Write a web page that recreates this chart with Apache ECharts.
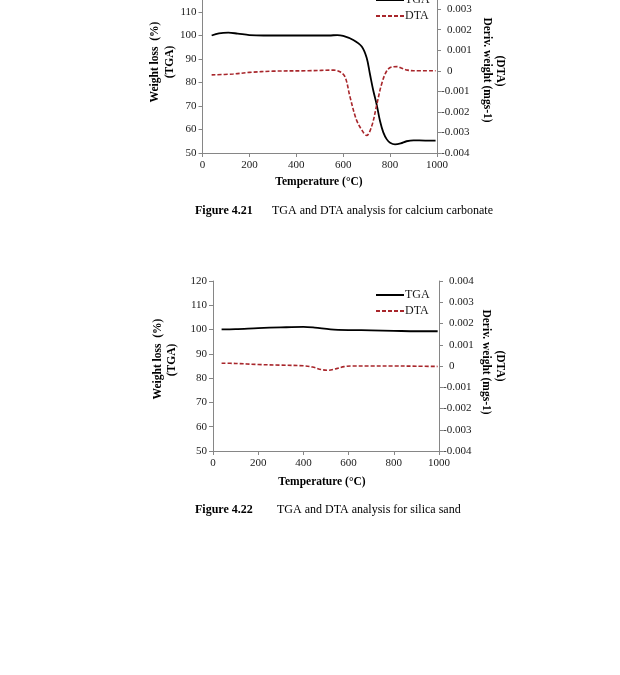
<!DOCTYPE html>
<html>
<head>
<meta charset="utf-8">
<script src="https://cdn.jsdelivr.net/npm/echarts@6/dist/echarts.min.js"></script>
<style>
html,body{margin:0;padding:0;background:#fff;overflow:hidden;}
#wrap{position:relative;width:620px;height:675px;overflow:hidden;}
#c{position:absolute;left:0;top:-17px;width:620px;height:692px;}
</style>
</head>
<body>
<div id="wrap"><div id="c"></div></div>
<script>
// ---- data ----
const xTicks = [0, 200, 400, 600, 800, 1000];
const leftTicks = [50, 60, 70, 80, 90, 100, 110, 120];
const rightTicks = [-0.004, -0.003, -0.002, -0.001, 0, 0.001, 0.002, 0.003, 0.004];

// Figure 4.21 calcium carbonate: [temperature, value]
const tgaCaCO3 = [[39,100],[70,100.9],[110,101.2],[150,100.8],[200,100.2],[260,100],[400,100],[540,100],[575,100.2],[600,99.8],[643,98.1],[679,95.3],[700,90.5],[714,83.6],[728,76.7],[743,70.5],[757,63.6],[771,58.8],[786,55.8],[800,54.4],[821,53.7],[845,54.1],[870,55],[900,55.4],[950,55.3],[994,55.3]];
const dtaCaCO3 = [[39,-0.0002],[130,-0.00016],[200,-0.00008],[300,-0.00002],[450,0],[560,0.00003],[586,-0.00005],[608,-0.0003],[629,-0.00127],[657,-0.0024],[686,-0.003],[700,-0.00315],[722,-0.00268],[743,-0.00166],[764,-0.00064],[786,0],[807,0.00018],[830,0.0002],[850,0.00012],[875,0.00003],[900,0],[994,0]];

// Figure 4.22 silica sand
const tgaSand = [[38,100.1],[100,100.2],[200,100.6],[300,100.9],[400,101.1],[450,100.8],[520,100.1],[600,99.8],[700,99.7],[800,99.5],[900,99.3],[994,99.3]];
const dtaSand = [[38,0.00013],[100,0.00012],[200,0.00007],[300,0.00004],[400,0.00001],[440,-0.00005],[480,-0.00017],[510,-0.0002],[540,-0.00014],[580,-0.00003],[620,0],[700,0],[800,0],[900,-0.00001],[994,-0.00002]];

const seriesNames = ['TGA', 'DTA'];
const xTitle = 'Temperature (°C)';
const leftTitle = ['Weight loss  (%)', '(TGA)'];
const rightTitle = ['Deriv. weight (mgs-1)', '(DTA)'];
const captions = [['Figure 4.21', 'TGA and DTA analysis for calcium carbonate'], ['Figure 4.22', 'TGA and DTA analysis for silica sand']];

// ---- styling ----
const OFF = 17; // canvas is shifted up by this many pixels (top of figure 4.21 is cut off)
const FONT = '"Liberation Serif", "Times New Roman", serif';
const AX = '#868686';
const TXT = '#1a1a1a';
const DTA_COLOR = '#a8262b';

function xAxis(gi) {
  return {
    gridIndex: gi, type: 'value', min: xTicks[0], max: xTicks[xTicks.length-1], interval: xTicks[1]-xTicks[0],
    axisLine: {show: true, onZero: false, lineStyle: {color: AX, width: 1}},
    axisTick: {show: true, length: 4, lineStyle: {color: AX}},
    splitLine: {show: false},
    axisLabel: {margin: 7, fontFamily: FONT, fontSize: 11, color: TXT, formatter: function (v) { return String(v); }}
  };
}
function leftAxis(gi) {
  return {
    gridIndex: gi, type: 'value', position: 'left', min: leftTicks[0], max: leftTicks[leftTicks.length-1], interval: leftTicks[1]-leftTicks[0],
    axisLine: {show: true, onZero: false, lineStyle: {color: AX, width: 1}},
    axisTick: {show: true, length: 4, lineStyle: {color: AX}},
    splitLine: {show: false},
    axisLabel: {margin: 6, fontFamily: FONT, fontSize: 11, color: TXT, formatter: function (v) { return String(v); }}
  };
}
function rightAxis(gi) {
  return {
    gridIndex: gi, type: 'value', position: 'right', min: rightTicks[0], max: rightTicks[rightTicks.length-1], interval: 0.001,
    axisLine: {show: true, onZero: false, lineStyle: {color: AX, width: 1}},
    axisTick: {show: true, length: 4, lineStyle: {color: AX}},
    splitLine: {show: false},
    axisLabel: {
      margin: 4, fontFamily: FONT, fontSize: 11, color: TXT, align: 'left',
      formatter: function (v) {
        const r = Math.round(v * 1000) / 1000;
        if (r === 0) return '{p| }0';
        if (r > 0) return '{p| }' + r.toFixed(3);
        return '-' + Math.abs(r).toFixed(3);
      },
      rich: {p: {width: 6, fontFamily: FONT, fontSize: 11}}
    }
  };
}
function series(gi, tga, dta) {
  return [
    {name: seriesNames[0], type: 'line', xAxisIndex: gi, yAxisIndex: gi*2, data: tga, smooth: 0.35, symbol: 'none',
     lineStyle: {color: '#000', width: 1.8}, itemStyle: {color: '#000'}},
    {name: seriesNames[1], type: 'line', xAxisIndex: gi, yAxisIndex: gi*2+1, data: dta, smooth: 0.35, symbol: 'none',
     lineStyle: {color: DTA_COLOR, width: 1.6, type: [4, 2]}, itemStyle: {color: DTA_COLOR}}
  ];
}
function legend(top) {
  return {orient: 'vertical', left: 375, top: top + OFF, padding: 0, itemWidth: 28, itemHeight: 14, itemGap: 4, data: seriesNames,
    itemStyle: {opacity: 0, borderWidth: 0},
    textStyle: {fontFamily: FONT, fontSize: 12, color: TXT, padding: [0, 0, 0, -4]}, selectedMode: false};
}
function txt(x, y, text, opt) {
  return {type: 'text', x: x, y: y + OFF, rotation: opt.rot || 0,
    style: {text: text, font: (opt.bold ? 'bold ' : '') + opt.size + 'px ' + FONT, fill: '#000',
      textAlign: opt.align || 'center', textVerticalAlign: 'middle'}};
}

const graphics = [
  // figure 4.21
  txt(319, 182, xTitle, {bold: true, size: 11.5}),
  txt(155, 62, leftTitle[0], {bold: true, size: 11.5, rot: Math.PI/2}),
  txt(170, 62, leftTitle[1], {bold: true, size: 11.5, rot: Math.PI/2}),
  txt(487, 70, rightTitle[0], {bold: true, size: 11.5, rot: -Math.PI/2}),
  txt(500, 71, rightTitle[1], {bold: true, size: 11.5, rot: -Math.PI/2}),
  txt(195, 211, captions[0][0], {bold: true, size: 12, align: 'left'}),
  txt(272, 211, captions[0][1], {size: 12, align: 'left'}),
  // figure 4.22
  txt(322, 482, xTitle, {bold: true, size: 11.5}),
  txt(158, 359, leftTitle[0], {bold: true, size: 11.5, rot: Math.PI/2}),
  txt(172, 360, leftTitle[1], {bold: true, size: 11.5, rot: Math.PI/2}),
  txt(486, 362, rightTitle[0], {bold: true, size: 11.5, rot: -Math.PI/2}),
  txt(500, 366, rightTitle[1], {bold: true, size: 11.5, rot: -Math.PI/2}),
  txt(195, 510, captions[1][0], {bold: true, size: 12, align: 'left'}),
  txt(277, 510, captions[1][1], {size: 12, align: 'left'})
];

const chart = echarts.init(document.getElementById('c'), null, {renderer: 'canvas'});
chart.setOption({
  animation: false,
  backgroundColor: '#fff',
  grid: [
    {left: 202.5, top: -16.5 + OFF, width: 234.5, height: 169.5, containLabel: false},
    {left: 213, top: 281 + OFF, width: 226, height: 170, containLabel: false}
  ],
  xAxis: [xAxis(0), xAxis(1)],
  yAxis: [leftAxis(0), rightAxis(0), leftAxis(1), rightAxis(1)],
  legend: [legend(-6), legend(289)],
  series: series(0, tgaCaCO3, dtaCaCO3).concat(series(1, tgaSand, dtaSand)),
  graphic: graphics
});
</script>
</body>
</html>
